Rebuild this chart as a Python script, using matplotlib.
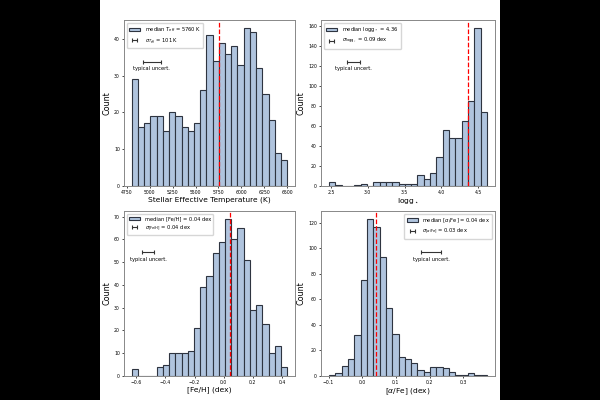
import numpy as np
import matplotlib
matplotlib.use("Agg")
import matplotlib.pyplot as plt
from matplotlib.patches import Rectangle
from matplotlib.ticker import MultipleLocator

# counts per bin (25 bins each)
teff_counts = [29, 16, 17, 19, 19, 15, 20, 19, 16, 15, 17, 26, 41, 34, 39, 36, 38, 33, 43, 42, 32, 25, 18, 9, 7]
teff_range = (4805, 6500)
teff_median = 5760
teff_sigma = 101

logg_counts = [4, 1, 0, 0, 1, 2, 0, 4, 4, 4, 4, 2, 2, 2, 11, 7, 13, 29, 56, 48, 48, 65, 85, 158, 74]
logg_range = (2.473, 4.62)
logg_median = 4.36
logg_sigma = 0.09

feh_counts = [3, 0, 0, 0, 4, 5, 10, 10, 10, 11, 21, 39, 44, 54, 59, 69, 60, 65, 51, 29, 31, 23, 10, 13, 4]
feh_range = (-0.63, 0.435)
feh_median = 0.04
feh_sigma = 0.04

afe_counts = [1, 2, 8, 13, 32, 75, 123, 117, 93, 53, 33, 15, 13, 10, 5, 3, 7, 7, 6, 3, 1, 1, 2, 1, 1]
afe_range = (-0.099, 0.371)
afe_median = 0.04
afe_sigma = 0.03

# (counts, range, median, sigma, xlabel, median label, sigma label, uncert. x centre, tick step, legend loc)
panels = [
    (teff_counts, teff_range, teff_median, teff_sigma, "Stellar Effective Temperature (K)",
     r"median $T_{\rm eff}$ = 5760 K", r"$\sigma_{T_{\rm eff}}$ = 101 K", 5023, 250, "upper left"),
    (logg_counts, logg_range, logg_median, logg_sigma, r"logg$_\star$",
     r"median logg$_\star$ = 4.36", r"$\sigma_{{\rm logg}_\star}$ = 0.09 dex", 2.805, 0.5, "upper left"),
    (feh_counts, feh_range, feh_median, feh_sigma, "[Fe/H] (dex)",
     "median [Fe/H] = 0.04 dex", r"$\sigma_{\rm [Fe/H]}$ = 0.04 dex", -0.517, 0.2, "upper left"),
    (afe_counts, afe_range, afe_median, afe_sigma, r"[$\alpha$/Fe] (dex)",
     r"median [$\alpha$/Fe] = 0.04 dex", r"$\sigma_{[\alpha/{\rm Fe}]}$ = 0.03 dex", 0.2045, 0.1, "upper right"),
]

# axes boxes in pixels: left, top, right, bottom
boxes = [(124, 20, 295, 186), (321, 20, 495, 186),
         (124, 211, 295, 376), (321, 211, 495, 376)]

fig = plt.figure(figsize=(6, 4), dpi=100, facecolor="black")
fig.patches.append(Rectangle((100 / 600, 0), 400 / 600, 1, transform=fig.transFigure,
                             facecolor="white", edgecolor="none", zorder=-10))

for (counts, rng, med, sig, xlab, mlab, slab, ux, step, loc), (l, t, r, b) in zip(panels, boxes):
    ax = fig.add_axes([l / 600, 1 - b / 400, (r - l) / 600, (b - t) / 400])
    edges = np.linspace(rng[0], rng[1], len(counts) + 1)
    ax.hist(edges[:-1], bins=edges, weights=counts, facecolor="#b0c4de",
            edgecolor="#2e3440", linewidth=0.8, label=mlab)
    ax.axvline(med, color="red", linestyle="--", linewidth=0.9)

    ymax = ax.get_ylim()[1]
    ax.errorbar(ux, 0.75 * ymax, xerr=sig, fmt="none", ecolor="#333333",
                elinewidth=0.8, capsize=1.5, capthick=0.8, label=slab)
    ax.text(ux, 0.72 * ymax, "typical uncert.", ha="center", va="top", fontsize=3.7)
    ax.set_ylim(0, ymax)

    ax.xaxis.set_major_locator(MultipleLocator(step))
    ax.set_xlabel(xlab, fontsize=5.4, labelpad=1)
    ax.set_ylabel("Count", fontsize=5.8, labelpad=2)
    ax.tick_params(labelsize=3.3, length=1.5, width=0.5, pad=1.5)
    for s in ax.spines.values():
        s.set_color("#888888")
        s.set_linewidth(0.7)
    ax.legend(loc=loc, fontsize=3.7, handlelength=2.2, borderpad=0.5,
              labelspacing=0.4, framealpha=0.8)

fig.savefig("out.png", dpi=100, facecolor="black")
